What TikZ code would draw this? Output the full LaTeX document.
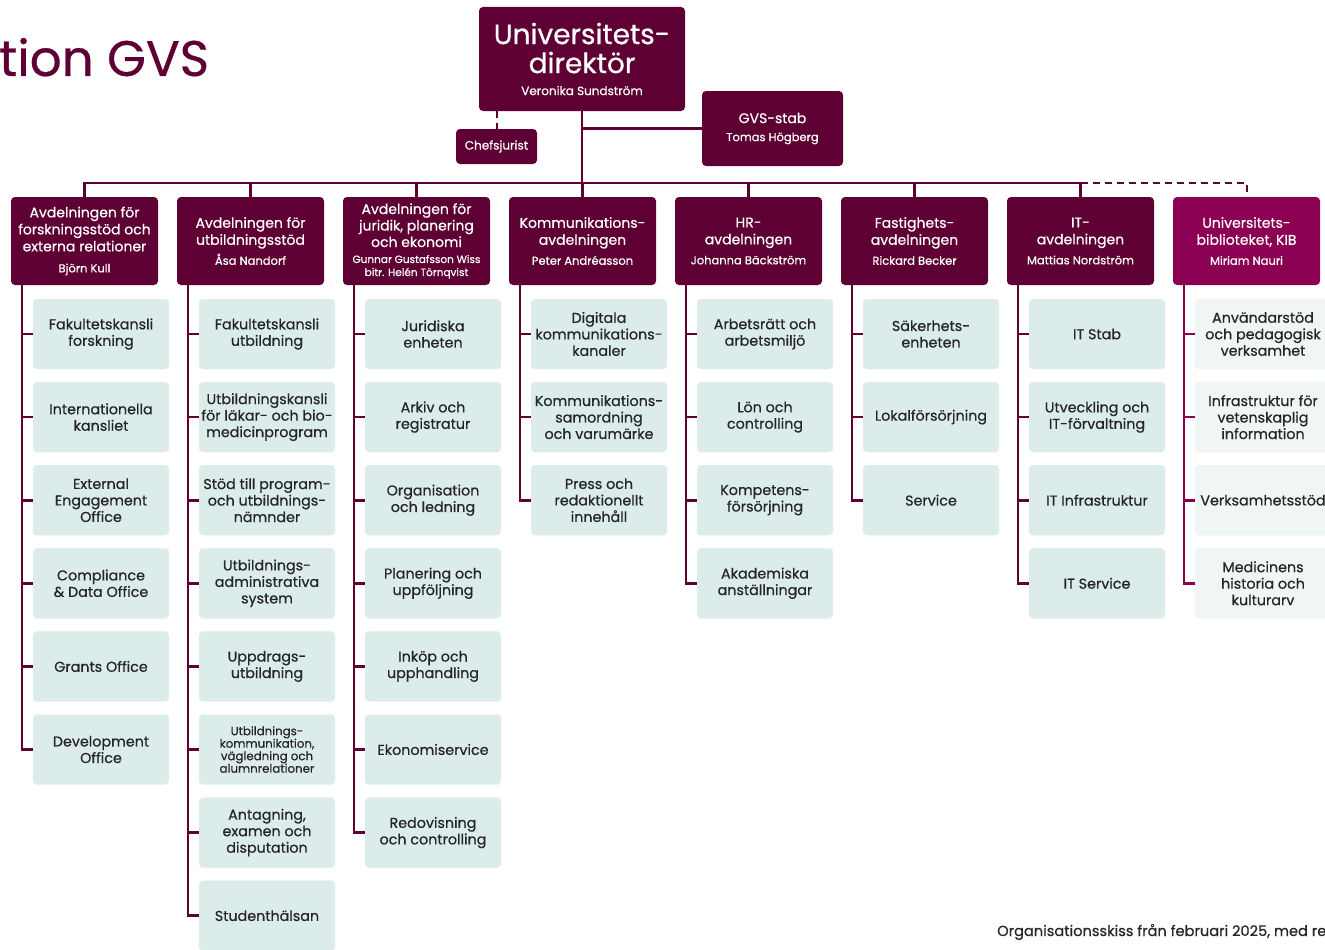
\documentclass[tikz,border=0pt]{standalone}
\usepackage{fontspec}
\setmainfont{Poppins}[FakeBold=0.6]
\usetikzlibrary{positioning}
\definecolor{gvsred}{RGB}{94,0,52}
\definecolor{kibred}{RGB}{140,0,84}
\definecolor{unitbg}{RGB}{220,236,234}
\definecolor{kibbg}{RGB}{239,246,245}
\definecolor{textdark}{RGB}{38,38,38}

\newcommand{\deptname}[1]{{\fontsize{11.5}{13}\selectfont #1}}
\newcommand{\deptsmall}[1]{{\fontsize{10.5}{12}\selectfont #1}}

\tikzset{
  dept/.style={rectangle, rounded corners=4pt, fill=gvsred, text=white, minimum width=147pt, minimum height=88pt, align=center, inner sep=1pt, font=\fontsize{14}{17}\selectfont},
  unit/.style={rectangle, rounded corners=4pt, fill=unitbg, draw=black!7, text=textdark, minimum width=136pt, minimum height=70pt, align=center, inner sep=1pt, font=\fontsize{14.3}{16.5}\selectfont},
  smallunit/.style={font=\fontsize{11.8}{12.5}\selectfont},
  kibunit/.style={fill=kibbg, draw=black!5},
  link/.style={draw=gvsred, line width=2.6pt},
  dashlink/.style={draw=gvsred, line width=2pt, dash pattern=on 7pt off 5pt},
}

\begin{document}
\begin{tikzpicture}[x=1pt,y=-1pt]
    \useasboundingbox (0,0) rectangle (1325,950);
    \clip (0,0) rectangle (1325,950);

    % Title and footnote
    \node[anchor=base west, inner sep=0pt, text=gvsred, font=\fontsize{50}{60}\selectfont] (title) at (-1,76) {tion GVS};
    \node[anchor=base west, inner sep=0pt, text=textdark, font=\fontsize{14.6}{17}\selectfont] (note) at (997,936) {Organisationsskiss från februari 2025, med re};

    % Top level
    \node[dept, minimum width=206pt, minimum height=104pt, font=\fontsize{28}{29}\selectfont] (top) at (582,59) {Universitets-\\direktör\\[-7pt]{\fontsize{12}{14}\selectfont Veronika Sundström}};
    \node[dept, minimum width=81pt, minimum height=35pt, font=\fontsize{12}{14}\selectfont] (chef) at (496.5,146.5) {Chefsjurist};
    \node[dept, minimum width=141pt, minimum height=75pt] (gvs) at (772.5,128.5) {GVS-stab\\[1pt]\deptname{Tomas Högberg}};

    % Departments
    \node[dept] (d1) at (84.5,241) {Avdelningen för\\forskningsstöd och\\externa relationer\\[4pt]\deptname{Björn Kull}};
    \node[dept] (d2) at (250.5,241) {Avdelningen för\\utbildningsstöd\\[3pt]\deptname{Åsa Nandorf}};
    \node[dept, font=\fontsize{14}{16.5}\selectfont] (d3) at (416.5,241) {Avdelningen för\\juridik, planering\\och ekonomi\\[-0.5pt]\deptsmall{Gunnar Gustafsson Wiss}\\[-3.5pt]\deptsmall{bitr. Helén Törnqvist}};
    \node[dept] (d4) at (582.5,241) {Kommunikations-\\avdelningen\\[3pt]\deptname{Peter Andréasson}};
    \node[dept] (d5) at (748.5,241) {HR-\\avdelningen\\[3pt]\deptname{Johanna Bäckström}};
    \node[dept] (d6) at (914.5,241) {Fastighets-\\avdelningen\\[3pt]\deptname{Rickard Becker}};
    \node[dept] (d7) at (1080.5,241) {IT-\\avdelningen\\[3pt]\deptname{Mattias Nordström}};
    \node[dept, fill=kibred] (d8) at (1246.5,241) {Universitets-\\biblioteket, KIB\\[3pt]\deptname{Miriam Nauri}};

    % Top connectors
    \coordinate (bar) at (0,183);
    \draw[dashlink] (top.south -| chef) -- (chef.north);
    \draw[link] (top.south) -- (top.south |- bar);
    \draw[link] (gvs.west) -- (gvs.west -| top.south);
    \draw[link] (d1.north) -- (d1.north |- bar) -- (d7.north |- bar) -- (d7.north);
    \foreach \d in {2,...,6}
        \draw[link] (d\d.north) -- (d\d.north |- bar);
    \draw[dashlink] (d7.north |- bar) -- (d8.north |- bar) -- (d8.north);

    % Spine coordinates
    \foreach \d in {1,...,8}
        \coordinate (d\d s) at ([xshift=11pt]d\d.south west);

    % Forskningsstöd
    \foreach \txt [count=\j] in {{Fakultetskansli\\forskning}, {Internationella\\kansliet}, {External\\Engagement\\Office}, {Compliance\\\& Data Office}, {Grants Office}, {Development\\Office}} {
        \node[unit] (d1u\j) at (101,{334+83.1*(\j-1)}) {\txt};
        \draw[link] (d1s) |- (d1u\j.west);
    }

    % Utbildningsstöd
    \foreach \txt [count=\j] in {{Fakultetskansli\\utbildning}, {Utbildningskansli\\för läkar- och bio-\\medicinprogram}, {Stöd till program-\\och utbildnings-\\nämnder}, {Utbildnings-\\administrativa\\system}, {Uppdrags-\\utbildning}, {Utbildnings-\\kommunikation,\\vägledning och\\alumnrelationer}, {Antagning,\\examen och\\disputation}, {Studenthälsan}} {
        \ifnum\j=6 \def\ustyle{smallunit}\else\def\ustyle{}\fi
        \node[unit,\ustyle] (d2u\j) at (267,{334+83.1*(\j-1)}) {\txt};
        \draw[link] (d2s) |- (d2u\j.west);
    }

    % Juridik, planering och ekonomi
    \foreach \txt [count=\j] in {{Juridiska\\enheten}, {Arkiv och\\registratur}, {Organisation\\och ledning}, {Planering och\\uppföljning}, {Inköp och\\upphandling}, {Ekonomiservice}, {Redovisning\\och controlling}} {
        \node[unit] (d3u\j) at (433,{334+83.1*(\j-1)}) {\txt};
        \draw[link] (d3s) |- (d3u\j.west);
    }

    % Kommunikation
    \foreach \txt [count=\j] in {{Digitala\\kommunikations-\\kanaler}, {Kommunikations-\\samordning\\och varumärke}, {Press och\\redaktionellt\\innehåll}} {
        \node[unit] (d4u\j) at (599,{334+83.1*(\j-1)}) {\txt};
        \draw[link] (d4s) |- (d4u\j.west);
    }

    % HR
    \foreach \txt [count=\j] in {{Arbetsrätt och\\arbetsmiljö}, {Lön och\\controlling}, {Kompetens-\\försörjning}, {Akademiska\\anställningar}} {
        \node[unit] (d5u\j) at (765,{334+83.1*(\j-1)}) {\txt};
        \draw[link] (d5s) |- (d5u\j.west);
    }

    % Fastighet
    \foreach \txt [count=\j] in {{Säkerhets-\\enheten}, {Lokalförsörjning}, {Service}} {
        \node[unit] (d6u\j) at (931,{334+83.1*(\j-1)}) {\txt};
        \draw[link] (d6s) |- (d6u\j.west);
    }

    % IT
    \foreach \txt [count=\j] in {{IT Stab}, {Utveckling och\\IT-förvaltning}, {IT Infrastruktur}, {IT Service}} {
        \node[unit] (d7u\j) at (1097,{334+83.1*(\j-1)}) {\txt};
        \draw[link] (d7s) |- (d7u\j.west);
    }

    % KIB
    \foreach \txt [count=\j] in {{Användarstöd\\och pedagogisk\\verksamhet}, {Infrastruktur för\\vetenskaplig\\information}, {Verksamhetsstöd}, {Medicinens\\historia och\\kulturarv}} {
        \node[unit,kibunit] (d8u\j) at (1263,{334+83.1*(\j-1)}) {\txt};
        \draw[link,draw=kibred] (d8s) |- (d8u\j.west);
    }
\end{tikzpicture}
\end{document}
